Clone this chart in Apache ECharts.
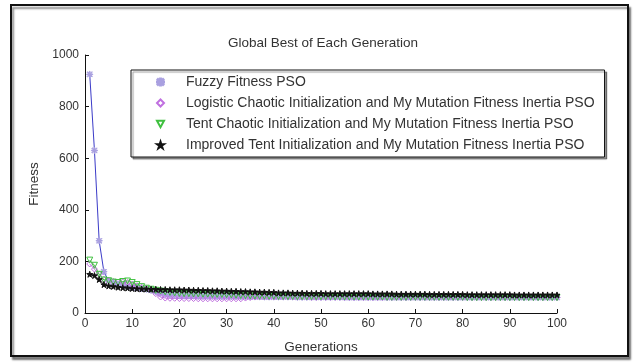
<!DOCTYPE html>
<html>
<head>
<meta charset="utf-8">
<script src="https://cdn.jsdelivr.net/npm/echarts@6/dist/echarts.min.js"></script>
<style>
  html, body { margin: 0; padding: 0; background: #fff; }
  #chart { width: 637px; height: 364px; }
</style>
</head>
<body>
<div id="chart"></div>
<script>
// Global best fitness per generation (generations 1..100) for four PSO variants
const seriesNames = [
  'Fuzzy Fitness PSO',
  'Logistic Chaotic Initialization and My Mutation Fitness Inertia PSO',
  'Tent Chaotic Initialization and My Mutation Fitness Inertia PSO',
  'Improved Tent Initialization and My Mutation Fitness Inertia PSO'
];

const fuzzyFitness = [
  925, 630, 280, 160, 125, 118, 112, 108, 104, 100,
  97, 95, 92, 88, 82, 76, 72, 70, 68, 67,
  66, 66, 66, 65, 65, 65, 65, 64, 64, 64,
  64, 64, 63, 63, 63, 63, 63, 62, 62, 62,
  62, 62, 62, 62, 61, 61, 61, 61, 61, 61,
  61, 61, 61, 61, 60, 60, 60, 60, 60, 60,
  60, 60, 60, 60, 60, 60, 60, 60, 60, 60,
  60, 60, 60, 60, 60, 60, 60, 60, 60, 60,
  60, 60, 60, 60, 60, 60, 60, 60, 60, 60,
  60, 60, 60, 60, 60, 60, 60, 60, 60, 60
];

const logisticChaotic = [
  190, 170, 150, 130, 125, 122, 120, 120, 118, 112,
  105, 100, 96, 90, 75, 62, 58, 57, 57, 56,
  56, 56, 56, 55, 55, 55, 55, 55, 55, 55,
  55, 55, 55, 58, 60, 62, 62, 62, 62, 62,
  62, 62, 62, 62, 62, 62, 62, 61, 61, 61,
  61, 61, 61, 61, 61, 61, 61, 61, 61, 61,
  61, 61, 61, 61, 61, 61, 61, 61, 61, 61,
  61, 61, 61, 61, 61, 61, 61, 61, 61, 61,
  61, 61, 61, 61, 61, 61, 61, 61, 61, 61,
  61, 61, 61, 61, 61, 61, 61, 61, 61, 61
];

const tentChaotic = [
  205, 185, 150, 128, 125, 120, 118, 122, 124, 118,
  110, 102, 96, 92, 88, 85, 82, 80, 78, 76,
  75, 75, 74, 74, 73, 73, 72, 72, 72, 71,
  70, 69, 68, 67, 66, 66, 65, 65, 65, 65,
  64, 64, 64, 64, 63, 63, 63, 63, 63, 63,
  63, 63, 62, 62, 62, 62, 62, 62, 62, 62,
  62, 62, 62, 61, 61, 61, 61, 61, 61, 61,
  61, 61, 61, 61, 61, 61, 61, 61, 61, 61,
  60, 60, 60, 60, 60, 60, 60, 60, 60, 60,
  60, 60, 60, 60, 60, 60, 60, 60, 60, 60
];

const improvedTent = [
  150, 145, 130, 110, 105, 103, 100, 98, 97, 95,
  94, 93, 93, 92, 92, 91, 91, 90, 90, 90,
  89, 89, 88, 88, 87, 87, 86, 86, 85, 85,
  84, 84, 83, 83, 82, 82, 81, 81, 80, 80,
  78, 78, 78, 77, 77, 77, 76, 76, 76, 76,
  75, 75, 75, 75, 75, 75, 75, 75, 75, 75,
  74, 74, 74, 74, 74, 73, 73, 73, 73, 73,
  73, 73, 72, 72, 72, 72, 72, 72, 72, 72,
  71, 71, 71, 71, 71, 71, 71, 71, 71, 71,
  70, 70, 70, 70, 70, 70, 70, 70, 70, 70
];

const yTicks = [0, 200, 400, 600, 800, 1000];
const xTicks = [0, 10, 20, 30, 40, 50, 60, 70, 80, 90, 100];

function pairs(values) {
  return values.map((v, i) => [i + 1, v]);
}

const FONT = 'Liberation Sans, Arial, sans-serif';
// filled outline of an eight-armed asterisk
const asterisk = 'path://M4.4,0H5.6V3.6L8.6,0.6L9.4,1.4L6.4,4.4H10V5.6H6.4L9.4,8.6L8.6,9.4L5.6,6.4V10H4.4V6.4L1.4,9.4L0.6,8.6L3.6,5.6H0V4.4H3.6L0.6,1.4L1.4,0.6L4.4,3.6Z';
const diamond = 'path://M5,0L10,5L5,10L0,5Z';
const triDown = 'path://M0,0L10,0L5,9Z';
const star = 'path://M5,0L6.2,3.6L10,3.6L6.9,5.9L8.1,9.5L5,7.3L1.9,9.5L3.1,5.9L0,3.6L3.8,3.6Z';

function mkSeries(name, values, lineColor, markColor, symbol, size, fill) {
  return {
    name: name,
    type: 'line',
    data: pairs(values),
    symbol: symbol,
    symbolSize: size,
    showAllSymbol: true,
    animation: false,
    lineStyle: { color: lineColor, width: 1 },
    itemStyle: { color: fill, borderColor: markColor, borderWidth: 1 }
  };
}

const chart = echarts.init(document.getElementById('chart'), null, { renderer: 'canvas' });
chart.setOption({
  backgroundColor: '#fff',
  animation: false,
  title: {
    text: 'Global Best of Each Generation',
    left: 318, top: 31, textAlign: 'center',
    textStyle: { fontFamily: FONT, fontSize: 13.5, fontWeight: 'normal', color: '#333' }
  },
  graphic: [
    {
      type: 'rect', left: 10, top: 4, z: -1,
      shape: { width: 617, height: 351 },
      style: { fill: '#fff', stroke: '#111', lineWidth: 2,
               shadowColor: 'rgba(0,0,0,0.45)', shadowOffsetX: 2, shadowOffsetY: 3, shadowBlur: 2 }
    }
  ],
  grid: { left: 85, right: 80, top: 55, bottom: 51 },
  legend: {
    orient: 'vertical',
    left: 131, top: 70,
    padding: [5, 10, 5, 25],
    itemGap: 7,
    itemWidth: 7, itemHeight: 7,
    backgroundColor: '#fff',
    borderColor: '#111', borderWidth: 1,
    shadowColor: 'rgba(0,0,0,0.4)', shadowOffsetX: 2, shadowOffsetY: 2, shadowBlur: 1,
    textStyle: { fontFamily: FONT, fontSize: 14, color: '#333', padding: [0, 0, 0, 17] },
    data: [
      { name: seriesNames[0], icon: asterisk },
      { name: seriesNames[1], icon: diamond },
      { name: seriesNames[2], icon: triDown },
      { name: seriesNames[3], icon: star }
    ]
  },
  xAxis: {
    type: 'value', min: 0, max: 100, interval: 10,
    name: 'Generations', nameLocation: 'middle', nameGap: 27,
    nameTextStyle: { fontFamily: FONT, fontSize: 13.5, color: '#333' },
    axisLine: { lineStyle: { color: '#111', width: 1 } },
    axisTick: { inside: true, length: 4, lineStyle: { color: '#111' } },
    axisLabel: { fontFamily: FONT, fontSize: 12, color: '#333', margin: 5,
                 formatter: v => xTicks.includes(v) ? String(v) : '' },
    splitLine: { show: false }
  },
  yAxis: {
    type: 'value', min: 0, max: 1000, interval: 200,
    name: 'Fitness', nameLocation: 'middle', nameGap: 42,
    nameTextStyle: { fontFamily: FONT, fontSize: 13.5, color: '#333' },
    axisLine: { show: true, lineStyle: { color: '#111', width: 1 } },
    axisTick: { show: true, inside: true, length: 4, lineStyle: { color: '#111' } },
    axisLabel: { fontFamily: FONT, fontSize: 12, color: '#333', margin: 6,
                 formatter: v => yTicks.includes(v) ? String(v) : '' },
    splitLine: { show: false }
  },
  series: [
    mkSeries(seriesNames[0], fuzzyFitness, '#3b3bc8', '#a9a0e0', asterisk, 6, '#a9a0e0'),
    mkSeries(seriesNames[1], logisticChaotic, '#c070e0', '#c070e0', diamond, 6, 'rgba(0,0,0,0)'),
    mkSeries(seriesNames[2], tentChaotic, '#40c040', '#40c040', triDown, 6, 'rgba(0,0,0,0)'),
    mkSeries(seriesNames[3], improvedTent, '#111', '#111', star, 6, '#111')
  ]
});
</script>
</body>
</html>
